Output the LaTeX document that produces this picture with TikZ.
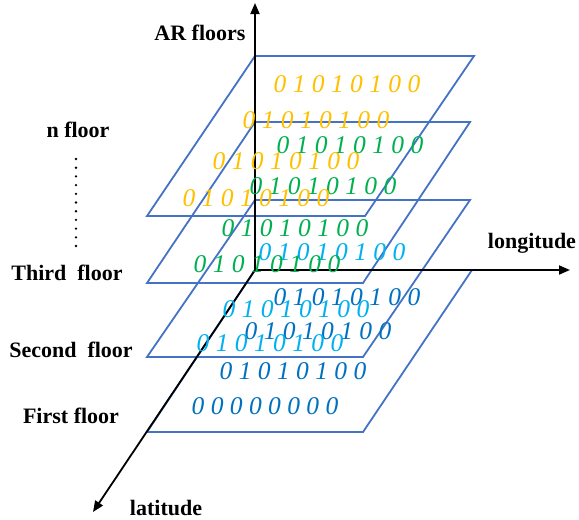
\documentclass[tikz,border=0pt]{standalone}
\usepackage{fontspec}
\setmainfont{Liberation Serif}
\usetikzlibrary{arrows.meta}
\definecolor{planeblue}{HTML}{4472C4}
\definecolor{yel}{HTML}{FFC000}
\definecolor{grn}{HTML}{00B050}
\definecolor{lblue}{HTML}{00B0F0}
\definecolor{dblue}{HTML}{0070C0}
\tikzset{
  plane/.style={draw=planeblue, line width=1.8pt, line join=miter},
  axis/.style={draw=black, line width=1.8pt, -{Triangle[length=11pt,width=9pt]}},
  bits/.style={font=\fontsize{25.5}{28}\selectfont\itshape, inner sep=0pt, anchor=center},
  lbl/.style={font=\fontsize{22}{24}\selectfont\bfseries, inner sep=0pt, anchor=center}
}
\begin{document}
\begin{tikzpicture}[x=1pt,y=-1pt]
\useasboundingbox (0,0) rectangle (579,520);
% planes
\coordinate (p1a) at (255,56);  \coordinate (p1b) at (474,56);  \coordinate (p1c) at (365,216); \coordinate (p1d) at (147,216);
\coordinate (p2a) at (255,122); \coordinate (p2b) at (470,122); \coordinate (p2c) at (363,283); \coordinate (p2d) at (147,283);
\coordinate (p3a) at (255,200); \coordinate (p3b) at (470,200); \coordinate (p3c) at (363,357); \coordinate (p3d) at (147,357);
\coordinate (p4a) at (255,270); \coordinate (p4b) at (472,270); \coordinate (p4c) at (363,432); \coordinate (p4d) at (147,432);
\draw[plane] (p1a) -- (p1b) -- (p1c) -- (p1d) -- cycle;
\draw[plane] (p2a) -- (p2b) -- (p2c) -- (p2d) -- cycle;
\draw[plane] (p3a) -- (p3b) -- (p3c) -- (p3d) -- cycle;
\draw[plane] (p4a) -- (p4b) -- (p4c) -- (p4d) -- cycle;
% axes
\coordinate (O) at (255,270);
\coordinate (up) at (255,3);
\coordinate (east) at (570,270);
\coordinate (south) at (93,512);
\draw[axis] (O) -- (up);
\draw[axis] (O) -- (east);
\draw[axis] (O) -- (south);
% bits
\node[bits, text=yel]   (b1)  at (347,84)  {0 1 0 1 0 1 0 0};
\node[bits, text=yel]   (b2)  at (316,120) {0 1 0 1 0 1 0 0};
\node[bits, text=grn]   (b3)  at (350,145) {0 1 0 1 0 1 0 0};
\node[bits, text=yel]   (b4)  at (286,161) {0 1 0 1 0 1 0 0};
\node[bits, text=grn]   (b5)  at (323,186) {0 1 0 1 0 1 0 0};
\node[bits, text=yel]   (b6)  at (256,198) {0 1 0 1 0 1 0 0};
\node[bits, text=grn]   (b7)  at (295,228) {0 1 0 1 0 1 0 0};
\node[bits, text=lblue] (b8)  at (332,252) {0 1 0 1 0 1 0 0};
\node[bits, text=grn]   (b9)  at (267,264) {0 1 0 1 0 1 0 0};
\node[bits, text=dblue] (b10) at (347,297) {0 1 0 1 0 1 0 0};
\node[bits, text=lblue] (b11) at (296,309) {0 1 0 1 0 1 0 0};
\node[bits, text=dblue] (b12) at (318,331) {0 1 0 1 0 1 0 0};
\node[bits, text=lblue] (b13) at (270,343) {0 1 0 1 0 1 0 0};
\node[bits, text=dblue] (b14) at (293,371) {0 1 0 1 0 1 0 0};
\node[bits, text=dblue] (b15) at (265,406) {0 0 0 0 0 0 0 0};
% labels
\node[lbl] (ar)  at (200,33)  {AR floors};
\node[lbl] (nf)  at (78,130)  {n floor};
\node[lbl] (tf)  at (67,273)  {Third~~floor};
\node[lbl] (sf)  at (71,350)  {Second~~floor};
\node[lbl] (ff)  at (71,416)  {First floor};
\node[lbl] (lat) at (166,508) {latitude};
\node[lbl] (lon) at (532,243) {longitude};
% dots
\coordinate (d1) at (76,159);
\coordinate (d2) at (76,246);
\draw[line width=2.6pt, line cap=round, dash pattern=on 0pt off 8.7pt] (d1) -- (d2);
\end{tikzpicture}
\end{document}
